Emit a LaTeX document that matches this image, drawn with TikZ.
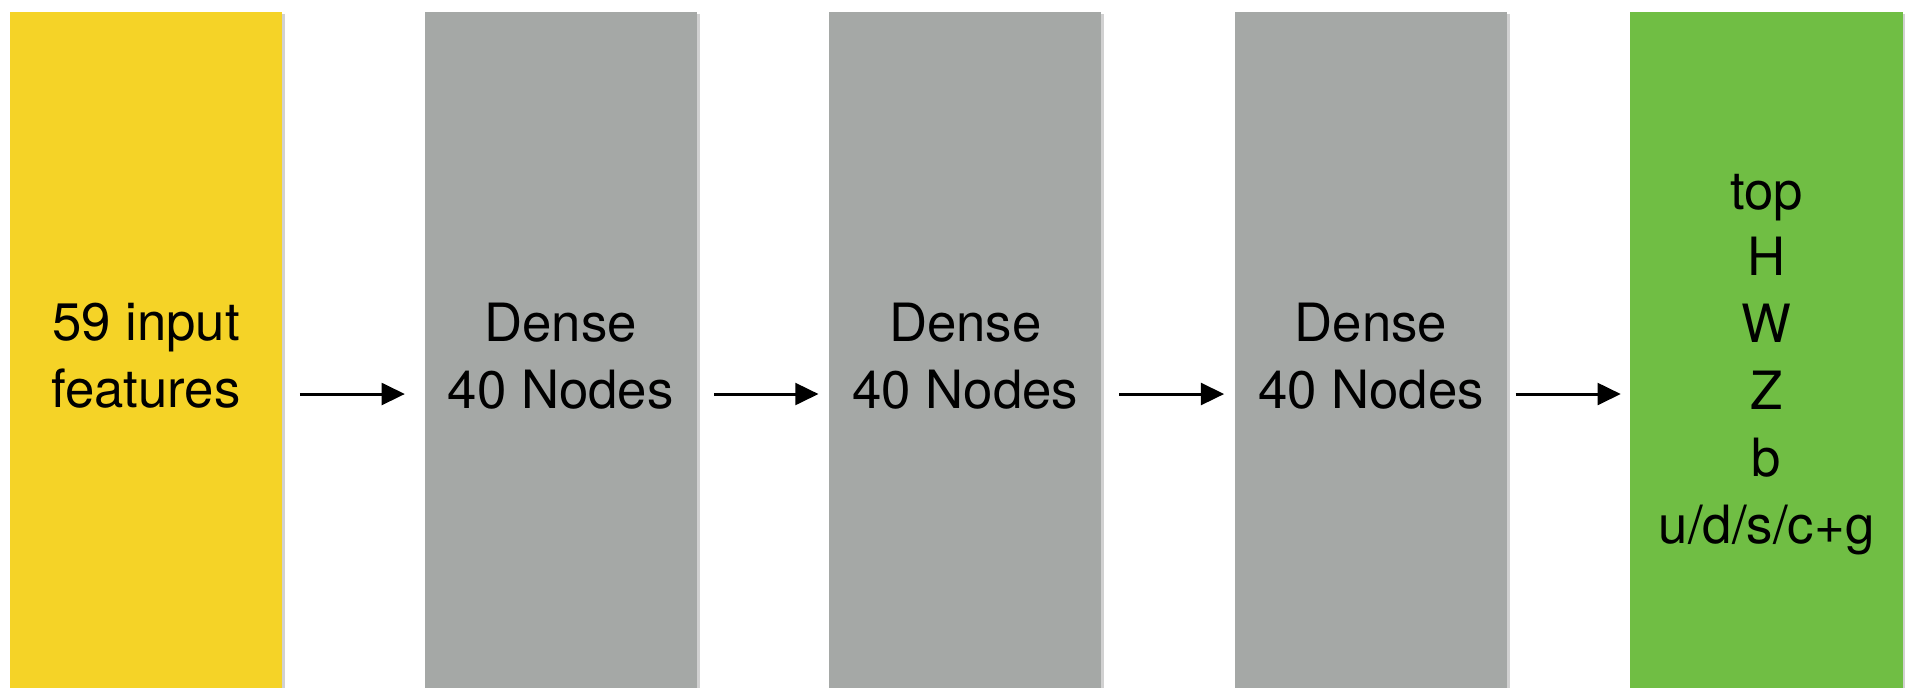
\documentclass[tikz,border=0pt]{standalone}
\usepackage{fontspec}
\setmainfont{TeX Gyre Heros}
\usetikzlibrary{arrows.meta, positioning, shadows}
\definecolor{inyellow}{HTML}{F5D327}
\definecolor{densegray}{HTML}{A5A8A6}
\definecolor{outgreen}{HTML}{70BE44}

\begin{document}
\begin{tikzpicture}[x=0.01cm, y=-0.01cm,
          layer/.style={minimum width=2.72cm, minimum height=6.88cm,
                        inner sep=0pt, align=center,
                        font=\fontsize{15}{19}\selectfont,
                        drop shadow={shadow xshift=0.8pt, shadow yshift=-0.6pt,
                                     opacity=0.18, fill=black}},
          arr/.style={-{Triangle[length=6.6pt, width=6.2pt]}, line width=0.85pt,
                      shorten <=0.17cm, shorten >=0.1cm},
        ]
        \clip (0,0) rectangle (1908,688);
        \fill[white] (0,0) rectangle (1908,688);
        \node[layer, fill=inyellow] (in) at (146,356) {59 input\\features};
        \node[layer, fill=densegray, right=1.41cm of in] (d1) {Dense\\40 Nodes};
        \node[layer, fill=densegray, right=1.31cm of d1] (d2) {Dense\\40 Nodes};
        \node[layer, fill=densegray, right=1.32cm of d2] (d3) {Dense\\40 Nodes};
        \node[layer, fill=outgreen, right=1.22cm of d3]
              (out) {\rule{0pt}{14.7pt}top\\H\\W\\Z\\b\\u/d/s/c+g};
        \draw[arr, shorten >=0.19cm] ([yshift=-0.38cm]in.east) -- ([yshift=-0.38cm]d1.west);
        \draw[arr] ([yshift=-0.38cm]d1.east) -- ([yshift=-0.38cm]d2.west);
        \draw[arr] ([yshift=-0.38cm]d2.east) -- ([yshift=-0.38cm]d3.west);
        \draw[arr, shorten <=0.08cm, shorten >=0.09cm]
              ([yshift=-0.38cm]d3.east) -- ([yshift=-0.38cm]out.west);
      \end{tikzpicture}
\end{document}
